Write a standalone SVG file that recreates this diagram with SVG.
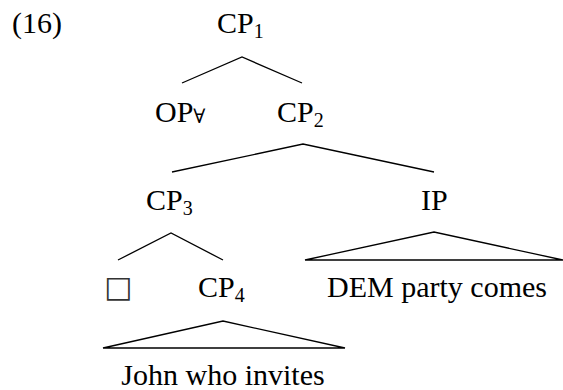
<svg xmlns="http://www.w3.org/2000/svg" width="563" height="390" viewBox="0 0 563 390">
<style>
.t{font-family:"Liberation Serif","Times New Roman",serif;font-size:30px;fill:#000}
.s{font-size:20px}
.e{fill:none;stroke:#000;stroke-width:1.3;stroke-linejoin:miter}
</style>
<rect width="563" height="390" fill="#fff"/>
<text class="t" x="12" y="33">(16)</text>
<g id="edges">
<polyline class="e" points="182,83 242,57 302,83"/>
<polyline class="e" points="172,172 303,144 434,172"/>
<polyline class="e" points="118,260 171,233 223,260"/>
<polygon class="e" points="305,260 434,232 563,260"/>
<polygon class="e" points="103,348 223,321 345,348"/>
</g>
<g id="cp1"><text class="t" x="217" y="33">CP<tspan class="s" dy="5">1</tspan></text></g>
<g id="op"><text class="t" x="155" y="122">OP<tspan class="s" dy="1" font-family="DejaVu Serif,serif">∀</tspan></text></g>
<g id="cp2"><text class="t" x="277" y="122">CP<tspan class="s" dy="5">2</tspan></text></g>
<g id="cp3"><text class="t" x="146" y="210">CP<tspan class="s" dy="5">3</tspan></text></g>
<g id="ip"><text class="t" x="421" y="210">IP</text></g>
<g id="box"><text class="t" x="104" y="297" font-family="DejaVu Sans,sans-serif" style="font-family:'DejaVu Sans',sans-serif;fill:#333">□</text></g>
<g id="cp4"><text class="t" x="198" y="297">CP<tspan class="s" dy="5">4</tspan></text></g>
<g id="dem"><text class="t" x="437" y="297" text-anchor="middle">DEM party comes</text></g>
<g id="john"><text class="t" x="223" y="385" text-anchor="middle">John who invites</text></g>
</svg>
